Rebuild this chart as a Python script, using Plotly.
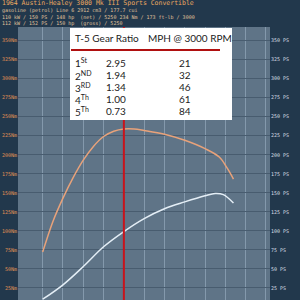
import plotly.graph_objects as go

# ---- data ----
rpm_torque = [1000, 1250, 1500, 1750, 2000, 2250, 2500, 2750, 3000, 3250, 3500, 4000, 4500, 5000, 5350, 5550, 5700]
torque_nm = [72, 112, 143, 170, 193, 211, 224, 231, 234, 234, 232, 227, 219, 208, 197, 182, 168]

rpm_power = [1000, 1500, 2000, 2500, 3000, 3500, 4000, 4500, 5000, 5250, 5450, 5700]
power_ps = [10, 29, 53, 79, 99, 116, 129, 138, 146, 149, 147.5, 136.5]

rpm_ticks = [1000, 1500, 2000, 2500, 3000, 3500, 4000, 4500, 5000, 5500, 6000, 6500]
y_ticks = [25, 50, 75, 100, 125, 150, 175, 200, 225, 250, 275, 300, 325, 350]

marker_rpm = 3000

title_line = "1964 Austin-Healey 3000 Mk III Sports Convertible"
spec_lines = [
    "gasoline (petrol) Line 6 2912 cm3 / 177.7 cui",
    "110 kW / 150 PS / 148 hp  (net) / 5250 234 Nm / 173 ft-lb / 3000",
    "112 kW / 152 PS / 150 hp  (gross) / 5250",
]

table_head = ["T-5 Gear Ratio", "MPH @ 3000 RPM"]
gears = ["1<sup>St</sup>", "2<sup>ND</sup>", "3<sup>RD</sup>", "4<sup>Th</sup>", "5<sup>Th</sup>"]
ratios = ["2.95", "1.94", "1.34", "1.00", "0.73"]
mph = ["21", "32", "46", "61", "84"]

# ---- layout geometry (pixels) ----
W, H = 300, 300
ML, MR, MT, MB = 18, 30, 27, 0
PW, PH = W - ML - MR, H - MT - MB


def px(x):
    return (x - ML) / PW


def py(y):
    return (H - MB - y) / PH


XR = [392, 6600]
YR = [9, 368]

fig = go.Figure()
fig.add_trace(go.Scatter(x=rpm_torque, y=torque_nm, mode="lines", line=dict(color="#e8a27a", width=1.5, shape="spline"),
                         showlegend=False, hoverinfo="skip"))
fig.add_trace(go.Scatter(x=rpm_power, y=power_ps, mode="lines", line=dict(color="#e4eef6", width=1.5, shape="spline"),
                         showlegend=False, hoverinfo="skip", yaxis="y2"))

shapes = [
    dict(type="line", xref="x", yref="paper", x0=marker_rpm, x1=marker_rpm, y0=0, y1=1,
         line=dict(color="#c8141c", width=2), layer="above"),
    dict(type="rect", xref="paper", yref="paper", x0=px(70), x1=px(232), y0=py(120), y1=py(28),
         fillcolor="white", line=dict(width=0), layer="above"),
    dict(type="line", xref="paper", yref="paper", x0=px(71), x1=px(220), y0=py(50), y1=py(50),
         line=dict(color="#b01010", width=2), layer="above"),
]

annotations = [
    dict(text=title_line, xref="paper", yref="paper", x=px(1), y=py(3), xanchor="left", yanchor="middle",
         showarrow=False, borderpad=0, font=dict(family="DejaVu Sans Mono", size=6.5, color="#eba860")),
    dict(text="<br>".join(spec_lines), xref="paper", yref="paper", x=px(1), y=py(16.9), xanchor="left",
         yanchor="middle", align="left", showarrow=False, borderpad=0,
         font=dict(family="DejaVu Sans Mono", size=5, color="#e0c49c")),
]

tfont = dict(family="Lato", size=10, color="#222222")
annotations.append(dict(text=table_head[0], xref="paper", yref="paper", x=px(74), y=py(38.5), xanchor="left",
                        yanchor="middle", showarrow=False, borderpad=0, font=tfont))
annotations.append(dict(text=table_head[1], xref="paper", yref="paper", x=px(147), y=py(38.5), xanchor="left",
                        yanchor="middle", showarrow=False, borderpad=0, font=tfont))
for i, (g, r, m) in enumerate(zip(gears, ratios, mph)):
    yy = 63 + 12.1 * i
    annotations.append(dict(text=g, xref="paper", yref="paper", x=px(74), y=py(yy), xanchor="left", yanchor="middle",
                            showarrow=False, borderpad=0, font=tfont))
    annotations.append(dict(text=r, xref="paper", yref="paper", x=px(105), y=py(yy), xanchor="left",
                            yanchor="middle", showarrow=False, borderpad=0, font=tfont))
    annotations.append(dict(text=m, xref="paper", yref="paper", x=px(185), y=py(yy), xanchor="center",
                            yanchor="middle", showarrow=False, borderpad=0, font=tfont))

fig.update_layout(
    width=W, height=H,
    margin=dict(l=ML, r=MR, t=MT, b=MB, pad=0),
    paper_bgcolor="#22384c",
    plot_bgcolor="#5f7487",
    xaxis=dict(range=XR, tickvals=rpm_ticks, showticklabels=False, showgrid=True, gridcolor="#8499ac", gridwidth=1,
               zeroline=False, showline=False, ticks=""),
    yaxis=dict(range=YR, tickvals=y_ticks, ticktext=[f"{v}Nm" for v in y_ticks], showgrid=True,
               gridcolor="#485c6f", gridwidth=1, zeroline=False, showline=False, ticks="",
               tickfont=dict(family="DejaVu Sans Mono", size=5, color="#e39355")),
    yaxis2=dict(range=YR, tickvals=y_ticks, ticktext=[f"{v} PS" for v in y_ticks], overlaying="y", side="right",
                showgrid=False, zeroline=False, showline=False, ticks="",
                tickfont=dict(family="DejaVu Sans Mono", size=5, color="#d8dfe6")),
    shapes=shapes,
    annotations=annotations,
)

fig.write_html("out.html")
